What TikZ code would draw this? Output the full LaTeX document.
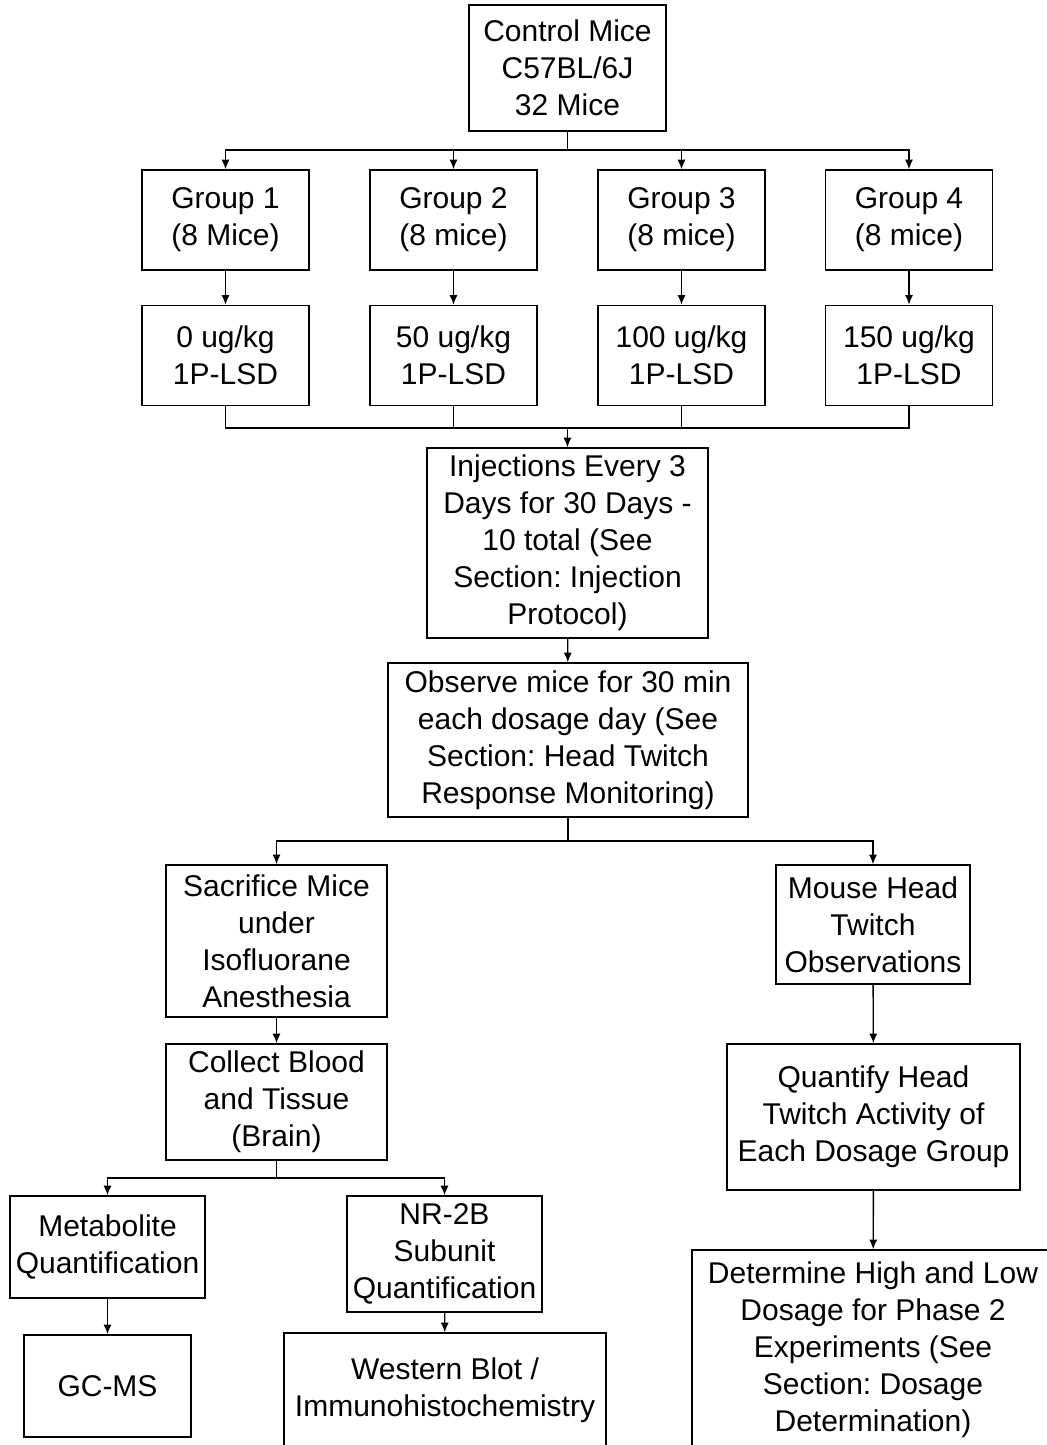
\documentclass[tikz,border=0pt]{standalone}
\usepackage{fontspec}
\setmainfont{Liberation Sans}
\usepackage{tikz}
\usetikzlibrary{arrows.meta,positioning}
\frenchspacing

\begin{document}
\begin{tikzpicture}[
  x=0.5pt, y=-0.5pt,
  font=\fontsize{15}{18.5}\selectfont,
  arrow/.style={-{Latex[length=4.8pt,width=4pt]}, line width=0.7pt},
  link/.style={line width=0.7pt},
  box/.style={rectangle, draw, line width=0.7pt, align=center,
              inner xsep=1pt, inner ysep=2pt},
  grp/.style={box, minimum width=83.5pt, minimum height=50pt}
]
\path[use as bounding box, clip] (0,0) rectangle (1047,1445);

% Top
\node[box, minimum width=98.5pt, minimum height=63pt] (ctrl) at (567.5,68)
  {Control Mice\\C57BL/6J\\32 Mice};

% Groups
\node[grp] (g1) at (225.5,220) {Group 1\\(8 Mice)};
\node[grp] (g2) at (453.5,220) {Group 2\\(8 mice)};
\node[grp] (g3) at (681.5,220) {Group 3\\(8 mice)};
\node[grp] (g4) at (909,220)   {Group 4\\(8 mice)};

% Doses
\node[grp] (d1) at (225.5,355.5) {0 ug/kg\\1P-LSD};
\node[grp] (d2) at (453.5,355.5) {50 ug/kg\\1P-LSD};
\node[grp] (d3) at (681.5,355.5) {100 ug/kg\\1P-LSD};
\node[grp] (d4) at (909,355.5)   {150 ug/kg\\1P-LSD};

% Middle
\node[box, minimum width=140.5pt, minimum height=95pt] (inj) at (567.5,543)
  {Injections Every 3\\Days for 30 Days -\\10 total (See\\Section: Injection\\Protocol)};
\node[box, minimum width=180pt, minimum height=77pt] (obs) at (568,740)
  {Observe mice for 30 min\\each dosage day (See\\Section: Head Twitch\\Response Monitoring)};

% Left branch
\node[box, minimum width=110.5pt, minimum height=76pt] (sac) at (276.5,941)
  {Sacrifice Mice\\under\\Isofluorane\\Anesthesia};
\node[box, minimum width=110.5pt, minimum height=58pt] (coll) at (276.5,1102)
  {Collect Blood\\and Tissue\\(Brain)};
\node[box, minimum width=97.5pt, minimum height=51pt] (meta) at (107.5,1247)
  {Metabolite\\Quantification};
\node[box, minimum width=97.5pt, minimum height=58pt] (nr2b) at (444.5,1254)
  {NR-2B\\Subunit\\Quantification};
\node[box, minimum width=83.5pt, minimum height=51pt] (gcms) at (107.5,1386)
  {GC-MS};
\node[box, minimum width=161pt, minimum height=57pt] (wb) at (445,1390)
  {Western Blot /\\Immunohistochemistry};

% Right branch
\node[box, minimum width=97pt, minimum height=59.5pt] (htr) at (873,924.5)
  {Mouse Head\\Twitch\\Observations};
\node[box, minimum width=146.5pt, minimum height=73pt] (quant) at (873.5,1117)
  {Quantify Head\\Twitch Activity of\\Each Dosage Group};
\node[box, minimum width=181pt, minimum height=100pt] (dose) at (873,1350)
  {Determine High and Low\\Dosage for Phase 2\\Experiments (See\\Section: Dosage\\Determination)};

% Coordinates
\coordinate (split1) at (567.5,150);
\coordinate (merge1) at (567.5,428);
\coordinate (split2) at (568,841);
\coordinate (split3) at (276.5,1178);

% Arrows
\draw[link] (ctrl) -- (split1);
\foreach \g in {g1,g2,g3,g4}
  \draw[arrow] (split1) -| (\g.north);
\foreach \g/\d in {g1/d1,g2/d2,g3/d3,g4/d4}
  \draw[arrow] (\g) -- (\d);
\foreach \d in {d1,d2,d3,d4}
  \draw[link] (\d.south) |- (merge1);
\draw[arrow] (merge1) -- (inj);
\draw[arrow] (inj) -- (obs);

\draw[link] (obs) -- (split2);
\draw[arrow] (split2) -| (sac.north);
\draw[arrow] (split2) -| (htr.north);

\draw[arrow] (sac) -- (coll);
\draw[link] (coll) -- (split3);
\draw[arrow] (split3) -| (meta.north);
\draw[arrow] (split3) -| (nr2b.north);
\draw[arrow] (meta) -- (gcms);
\draw[arrow] (nr2b) -- (wb);

\draw[arrow] (htr) -- (quant);
\draw[arrow] (quant) -- (dose);

\end{tikzpicture}
\end{document}
